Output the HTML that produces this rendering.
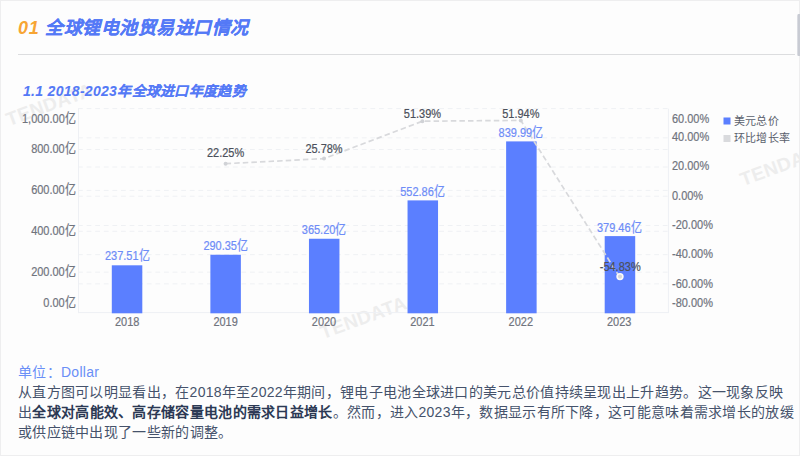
<!DOCTYPE html>
<html lang="zh-CN"><head><meta charset="utf-8">
<style>
html,body{margin:0;padding:0;background:#fdfdfd;}
body{width:800px;height:456px;position:relative;overflow:hidden;font-family:"Liberation Sans",sans-serif;}
.a{position:absolute;white-space:nowrap;}
#frame{position:absolute;left:0;top:0;width:798px;height:454px;border:1px solid #eeeeef;}
#t01{left:18px;top:17.7px;font-size:18px;letter-spacing:0.8px;line-height:20px;color:#f7a534;font-weight:bold;font-style:italic;}
#t1{left:45px;top:18px;font-size:18px;letter-spacing:0.5px;line-height:20px;color:#5479f6;font-weight:bold;font-style:italic;-webkit-text-stroke:0.15px #5479f6;}
#sep{left:18px;top:54px;width:777px;height:1px;background:#dcdddf;}
#t2{left:23px;top:82.8px;font-size:14px;letter-spacing:0.3px;line-height:16px;color:#5479f6;font-weight:bold;font-style:italic;-webkit-text-stroke:0.06px #5479f6;}
#unit{left:18px;top:362px;font-size:14px;letter-spacing:0.3px;line-height:20px;color:#6a8ff7;}
#para{left:18px;top:381.7px;font-size:14px;letter-spacing:0.3px;line-height:20px;color:#45526b;width:790px;white-space:normal;}
#para b{color:#2c3954;}
#sb{left:796.5px;top:14px;width:3.5px;height:42px;background:linear-gradient(90deg,#e4e5ea,#c8cbd3 45%,#c8cbd3);border-radius:1.5px 0 0 1.5px;}
.wm{position:absolute;font-size:19px;line-height:19px;letter-spacing:0.4px;font-weight:bold;color:#ededed;transform:rotate(-20deg);transform-origin:left bottom;}
svg text{font-family:"Liberation Sans",sans-serif;}
</style></head><body>
<div id="frame"></div>
<div class="wm" style="left:10px;top:110.2px;">TENDATA</div>
<div class="wm" style="left:743.6px;top:169.9px;">TENDATA</div>
<div class="wm" style="left:323.5px;top:322.7px;">TENDATA</div>
<div id="sb" class="a"></div>
<div id="t01" class="a">01</div>
<div id="t1" class="a">全球锂电池贸易进口情况</div>
<div id="sep" class="a"></div>
<div id="t2" class="a">1.1 2018-2023年全球进口年度趋势</div>
<svg class="a" style="left:0;top:0" width="800" height="456" viewBox="0 0 800 456">
<g stroke="#eff1f4" stroke-width="1" stroke-dasharray="4.8,3.8">
 <line x1="78" x2="668.4" y1="108.6" y2="108.6"/>
 <line x1="78" x2="668.4" y1="137.81" y2="137.81"/>
 <line x1="78" x2="668.4" y1="149.5" y2="149.5"/>
 <line x1="78" x2="668.4" y1="167.03" y2="167.03"/>
 <line x1="78" x2="668.4" y1="190.4" y2="190.4"/>
 <line x1="78" x2="668.4" y1="196.24" y2="196.24"/>
 <line x1="78" x2="668.4" y1="225.46" y2="225.46"/>
 <line x1="78" x2="668.4" y1="231.3" y2="231.3"/>
 <line x1="78" x2="668.4" y1="254.67" y2="254.67"/>
 <line x1="78" x2="668.4" y1="272.2" y2="272.2"/>
 <line x1="78" x2="668.4" y1="283.89" y2="283.89"/>
</g>
<line x1="78.5" x2="78.5" y1="108.6" y2="313.1" stroke="#eef0f4"/>
<line x1="668.4" x2="668.4" y1="108.6" y2="313.1" stroke="#eef0f4"/>
<line x1="78" x2="668.4" y1="312.6" y2="312.6" stroke="#eef0f4"/>
<g fill="#5b7fff">
 <rect x="111.80" y="265.3" width="30.5" height="48.00"/>
 <rect x="210.38" y="254.75" width="30.5" height="58.55"/>
 <rect x="308.96" y="238.75" width="30.5" height="74.55"/>
 <rect x="407.54" y="200.4" width="30.5" height="112.90"/>
 <rect x="506.12" y="141.4" width="30.5" height="171.90"/>
 <rect x="604.70" y="236.1" width="30.5" height="77.20"/>
</g>
<polyline points="225.6,163.7 324.0,158.6 422.4,121.2 520.8,120.4 619.2,276.3" fill="none" stroke="#d8d9dc" stroke-width="1.7" stroke-dasharray="5.5,3.1"/>
<g fill="#d0d2d6">
 <circle cx="225.6" cy="163.7" r="2"/>
 <circle cx="324.0" cy="158.6" r="2"/>
 <circle cx="422.4" cy="121.2" r="2"/>
 <circle cx="520.8" cy="120.4" r="2"/>
</g>
<circle cx="620.0" cy="276.6" r="2.9" fill="#d6d7da" stroke="#fafafa" stroke-width="1.6"/>
<text transform="translate(75.6,123) scale(1,1.2)" text-anchor="end" fill="#70747d" stroke="#70747d" stroke-width="0.18" font-size="11">1,000.00亿</text>
<text transform="translate(75.6,153) scale(1,1.2)" text-anchor="end" fill="#70747d" stroke="#70747d" stroke-width="0.18" font-size="11">800.00亿</text>
<text transform="translate(75.6,194) scale(1,1.2)" text-anchor="end" fill="#70747d" stroke="#70747d" stroke-width="0.18" font-size="11">600.00亿</text>
<text transform="translate(75.6,235) scale(1,1.2)" text-anchor="end" fill="#70747d" stroke="#70747d" stroke-width="0.18" font-size="11">400.00亿</text>
<text transform="translate(75.6,276) scale(1,1.2)" text-anchor="end" fill="#70747d" stroke="#70747d" stroke-width="0.18" font-size="11">200.00亿</text>
<text transform="translate(75.6,307) scale(1,1.2)" text-anchor="end" fill="#70747d" stroke="#70747d" stroke-width="0.18" font-size="11">0.00亿</text>
<text transform="translate(672,123) scale(1,1.2)" text-anchor="start" fill="#70747d" stroke="#70747d" stroke-width="0.18" font-size="11">60.00%</text>
<text transform="translate(672,140.5) scale(1,1.2)" text-anchor="start" fill="#70747d" stroke="#70747d" stroke-width="0.18" font-size="11">40.00%</text>
<text transform="translate(672,170) scale(1,1.2)" text-anchor="start" fill="#70747d" stroke="#70747d" stroke-width="0.18" font-size="11">20.00%</text>
<text transform="translate(672,199.5) scale(1,1.2)" text-anchor="start" fill="#70747d" stroke="#70747d" stroke-width="0.18" font-size="11">0.00%</text>
<text transform="translate(672,229) scale(1,1.2)" text-anchor="start" fill="#70747d" stroke="#70747d" stroke-width="0.18" font-size="11">-20.00%</text>
<text transform="translate(672,258) scale(1,1.2)" text-anchor="start" fill="#70747d" stroke="#70747d" stroke-width="0.18" font-size="11">-40.00%</text>
<text transform="translate(672,288) scale(1,1.2)" text-anchor="start" fill="#70747d" stroke="#70747d" stroke-width="0.18" font-size="11">-60.00%</text>
<text transform="translate(672,306.5) scale(1,1.2)" text-anchor="start" fill="#70747d" stroke="#70747d" stroke-width="0.18" font-size="11">-80.00%</text>
<text transform="translate(127.2,326) scale(1,1.2)" text-anchor="middle" fill="#70747d" stroke="#70747d" stroke-width="0.18" font-size="11">2018</text>
<text transform="translate(225.6,326) scale(1,1.2)" text-anchor="middle" fill="#70747d" stroke="#70747d" stroke-width="0.18" font-size="11">2019</text>
<text transform="translate(324.0,326) scale(1,1.2)" text-anchor="middle" fill="#70747d" stroke="#70747d" stroke-width="0.18" font-size="11">2020</text>
<text transform="translate(422.4,326) scale(1,1.2)" text-anchor="middle" fill="#70747d" stroke="#70747d" stroke-width="0.18" font-size="11">2021</text>
<text transform="translate(520.8,326) scale(1,1.2)" text-anchor="middle" fill="#70747d" stroke="#70747d" stroke-width="0.18" font-size="11">2022</text>
<text transform="translate(619.2,326) scale(1,1.2)" text-anchor="middle" fill="#70747d" stroke="#70747d" stroke-width="0.18" font-size="11">2023</text>
<text transform="translate(127.2,260.2) scale(1,1.2)" text-anchor="middle" fill="#6d8cf7" stroke="#6d8cf7" stroke-width="0.18" font-size="11">237.51亿</text>
<text transform="translate(225.6,249.5) scale(1,1.2)" text-anchor="middle" fill="#6d8cf7" stroke="#6d8cf7" stroke-width="0.18" font-size="11">290.35亿</text>
<text transform="translate(324.0,234.2) scale(1,1.2)" text-anchor="middle" fill="#6d8cf7" stroke="#6d8cf7" stroke-width="0.18" font-size="11">365.20亿</text>
<text transform="translate(422.4,195.6) scale(1,1.2)" text-anchor="middle" fill="#6d8cf7" stroke="#6d8cf7" stroke-width="0.18" font-size="11">552.86亿</text>
<text transform="translate(520.8,137) scale(1,1.2)" text-anchor="middle" fill="#6d8cf7" stroke="#6d8cf7" stroke-width="0.18" font-size="11">839.99亿</text>
<text transform="translate(619.2,231.6) scale(1,1.2)" text-anchor="middle" fill="#6d8cf7" stroke="#6d8cf7" stroke-width="0.18" font-size="11">379.46亿</text>
<text transform="translate(225.6,157) scale(1,1.2)" text-anchor="middle" fill="#4b505b" stroke="#4b505b" stroke-width="0.18" font-size="11">22.25%</text>
<text transform="translate(324.0,152.5) scale(1,1.2)" text-anchor="middle" fill="#4b505b" stroke="#4b505b" stroke-width="0.18" font-size="11">25.78%</text>
<text transform="translate(422.4,118) scale(1,1.2)" text-anchor="middle" fill="#4b505b" stroke="#4b505b" stroke-width="0.18" font-size="11">51.39%</text>
<text transform="translate(520.8,118) scale(1,1.2)" text-anchor="middle" fill="#4b505b" stroke="#4b505b" stroke-width="0.18" font-size="11">51.94%</text>
<text transform="translate(620.2,271) scale(1,1.2)" text-anchor="middle" fill="#4b505b" stroke="#4b505b" stroke-width="0.18" font-size="11">-54.83%</text>
<rect x="723.5" y="117.5" width="7" height="7" fill="#5b7fff"/>
<rect x="723.5" y="135" width="7" height="7" fill="#d9dadd"/>
<g font-size="11" fill="#5a606c" letter-spacing="0.4">
 <text x="733.7" y="124.8">美元总价</text>
 <text x="733.7" y="141.5">环比增长率</text>
</g>
</svg>
<div id="unit" class="a">单位：Dollar</div>
<div id="para" class="a">从直方图可以明显看出，在2018年至2022年期间，锂电子电池全球进口的美元总价值持续呈现出上升趋势。这一现象反映<br>出<b>全球对高能效、高存储容量电池的需求日益增长</b>。然而，进入2023年，数据显示有所下降，这可能意味着需求增长的放缓<br>或供应链中出现了一些新的调整。</div>
</body></html>
